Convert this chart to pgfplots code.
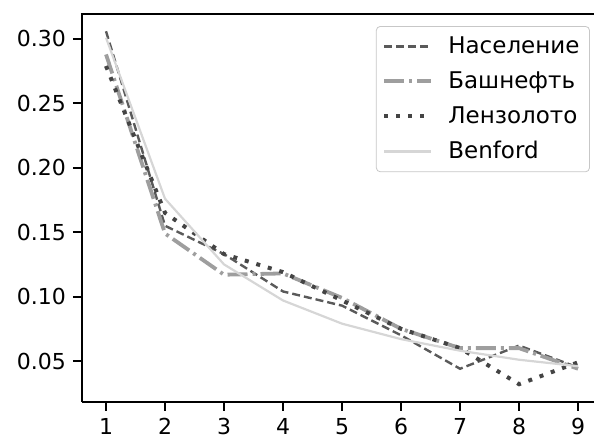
\documentclass[border=0pt]{standalone}
\usepackage{pgfplots}
\pgfplotsset{compat=1.18}
\usepackage{fontspec}
\setmainfont{DejaVu Sans}
\definecolor{cnas}{HTML}{5A5A5A}
\definecolor{cbash}{HTML}{9E9E9E}
\definecolor{clen}{HTML}{444444}
\definecolor{cben}{HTML}{D6D6D6}
\begin{document}
\begin{tikzpicture}
\useasboundingbox (-41pt,-20pt) rectangle (256pt,201pt);
\begin{axis}[
  at={(0pt,0pt)}, anchor=south west,
  scale only axis,
  width=256pt, height=194pt,
  xmin=0.593, xmax=9.27,
  ymin=0.0182, ymax=0.3194,
  axis x line*=bottom, axis y line*=left,
  axis line style={line width=1.2pt, black},
  xtick={1,2,3,4,5,6,7,8,9},
  ytick={0.05,0.10,0.15,0.20,0.25,0.30},
  yticklabels={0.05,0.10,0.15,0.20,0.25,0.30},
  xtick pos=bottom, ytick pos=left,
  tick align=outside,
  major tick length=4.5pt,
  tick style={line width=1pt, black},
  tick label style={font=\fontsize{11}{13}\selectfont},
  /pgf/number format/assume math mode=true,
  legend style={
    at={(0.992,0.969)}, anchor=north east,
    draw=black!22, rounded corners=2pt,
    font=\fontsize{11.5}{13}\selectfont,
    inner xsep=3pt, inner ysep=3pt,
    row sep=3.6pt,
  },
  legend cell align=left,
  legend image code/.code={\draw[#1] (0pt,0pt) -- (23.5pt,0pt); \path (29pt,0pt);},
]
\addplot[cnas, line width=1.2pt, dash pattern=on 4pt off 2pt] coordinates {
 (1,0.306) (2,0.155) (3,0.133) (4,0.104) (5,0.093) (6,0.070) (7,0.044) (8,0.062) (9,0.045)};
\addlegendentry{Население}
\addplot[cbash, line width=1.9pt, dash pattern=on 10pt off 2.5pt on 1.5pt off 2.5pt] coordinates {
 (1,0.288) (2,0.149) (3,0.117) (4,0.118) (5,0.099) (6,0.075) (7,0.060) (8,0.060) (9,0.044)};
\addlegendentry{Башнефть}
\addplot[clen, line width=2pt, dash pattern=on 2pt off 4pt] coordinates {
 (1,0.279) (2,0.165) (3,0.133) (4,0.119) (5,0.097) (6,0.075) (7,0.060) (8,0.032) (9,0.049)};
\addlegendentry{Лензолото}
\addplot[cben, line width=1.1pt] coordinates {
 (1,0.301) (2,0.176) (3,0.125) (4,0.097) (5,0.079) (6,0.067) (7,0.058) (8,0.051) (9,0.046)};
\addlegendentry{Benford}
\end{axis}
\draw[black, line width=1.2pt] (-0.6pt,194pt) -- (256pt,194pt);
\end{tikzpicture}
\end{document}
